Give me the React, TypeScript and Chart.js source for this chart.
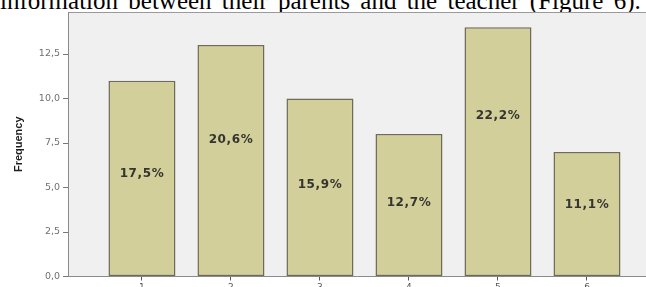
import React, { useEffect, useRef } from "react";
import { Chart, registerables } from "chart.js";

Chart.register(...registerables);

const categories = ["1", "2", "3", "4", "5", "6"];
const frequencies = [11, 13, 10, 8, 14, 7];
const percentLabels = ["17,5%", "20,6%", "15,9%", "12,7%", "22,2%", "11,1%"];
// height (in frequency units) at which each percent label sits inside its bar
const labelAt = [5.76, 7.67, 5.14, 4.15, 9.02, 4.02];
const yTicks = [0, 2.5, 5, 7.5, 10, 12.5];
const captionText = "information between their parents and the teacher (Figure 6).";

const W = 646;
const H = 287;

const plotFrame = {
  id: "plotFrame",
  beforeDraw(chart: any) {
    const { ctx, chartArea } = chart;
    ctx.save();
    ctx.fillStyle = "#f0f0f0";
    ctx.fillRect(chartArea.left, chartArea.top, chartArea.right - chartArea.left, chartArea.bottom - chartArea.top);
    ctx.strokeStyle = "#9a9a9a";
    ctx.lineWidth = 1;
    ctx.beginPath();
    ctx.moveTo(chartArea.left, chartArea.top + 0.5);
    ctx.lineTo(chartArea.right, chartArea.top + 0.5);
    ctx.stroke();
    ctx.restore();
  },
};

const percentText = {
  id: "percentText",
  afterDatasetsDraw(chart: any) {
    const { ctx } = chart;
    const meta = chart.getDatasetMeta(0);
    const yScale = chart.scales.y;
    ctx.save();
    ctx.font = "bold 12px 'DejaVu Sans'";
    try {
      (ctx as any).letterSpacing = "0.6px";
    } catch (e) {}
    ctx.fillStyle = "#353530";
    ctx.textAlign = "center";
    ctx.textBaseline = "middle";
    meta.data.forEach((bar: any, i: number) => {
      ctx.fillText(percentLabels[i], bar.x, yScale.getPixelForValue(labelAt[i]));
    });
    ctx.restore();
  },
};

export default function App() {
  const ref = useRef<HTMLCanvasElement | null>(null);

  useEffect(() => {
    if (!ref.current) return;
    const chart = new Chart(ref.current, {
      type: "bar",
      data: {
        datasets: [
          {
            data: frequencies.map((v, i) => ({ x: i + 1, y: v })),
            backgroundColor: "#d3cf9a",
            borderColor: "#6e6b57",
            borderWidth: 1.5,
            borderSkipped: false,
            barPercentage: 67 / 89,
            categoryPercentage: 1,
          },
        ],
      },
      options: {
        animation: false,
        responsive: false,
        devicePixelRatio: 1,
        layout: { padding: { top: 12, left: 0, right: 0, bottom: 0 } },
        plugins: { legend: { display: false }, tooltip: { enabled: false } },
        scales: {
          x: {
            type: "linear",
            min: 0.169,
            max: 6.663,
            offset: false,
            grid: { offset: false, drawOnChartArea: false, drawTicks: true, tickLength: 4, color: "#555" },
            border: { display: true, color: "#8a8a8a", width: 1 },
            afterBuildTicks: (scale: any) => {
              scale.ticks = categories.map((_, i) => ({ value: i + 1 }));
            },
            afterFit: (scale: any) => {
              scale.height = 10.5;
            },
            ticks: {
              autoSkip: false,
              padding: 2,
              color: "#555",
              font: { family: "'DejaVu Sans'", size: 9 },
              callback: (v: any) => categories[Math.round(v) - 1] ?? "",
            },
          },
          y: {
            min: 0,
            max: 14.86,
            afterBuildTicks: (scale: any) => {
              scale.ticks = yTicks.map((v) => ({ value: v }));
            },
            afterFit: (scale: any) => {
              scale.width = 68;
            },
            grid: { drawOnChartArea: false, drawTicks: true, tickLength: 5, color: "#777" },
            border: { display: true, color: "#8a8a8a", width: 1 },
            ticks: {
              padding: 3,
              color: "#707070",
              font: { family: "'DejaVu Sans'", size: 9.5 },
              callback: (v: any) => Number(v).toFixed(1).replace(".", ","),
            },
            title: {
              display: true,
              text: "Frequency",
              color: "#1e1e1e",
              padding: { top: 12, bottom: 0 },
              font: { family: "'Liberation Sans', sans-serif", size: 11, weight: "bold" },
            },
          },
        },
      },
      plugins: [plotFrame, percentText],
    });
    return () => chart.destroy();
  }, []);

  return (
    <div style={{ position: "absolute", left: 0, top: 0, width: W, height: H, overflow: "hidden", background: "#fff" }}>
      <div
        style={{
          position: "absolute",
          left: 0,
          top: -12,
          whiteSpace: "nowrap",
          fontFamily: "'Liberation Serif', serif",
          fontSize: 25,
          lineHeight: "25px",
          wordSpacing: "4px",
          color: "#000",
        }}
      >
        {captionText}
      </div>
      <canvas ref={ref} width={W} height={H} style={{ position: "absolute", left: 0, top: 0, display: "block" }} />
    </div>
  );
}
